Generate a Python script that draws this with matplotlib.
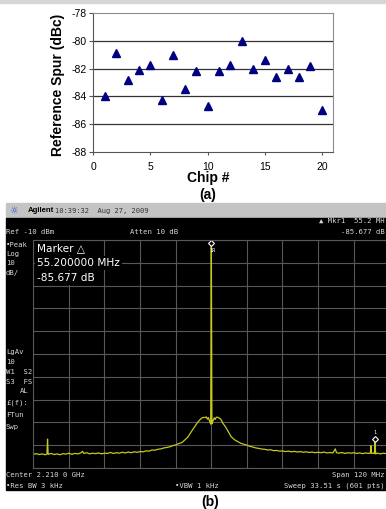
import matplotlib.pyplot as plt
from matplotlib.patches import Rectangle

plt.rcParams['font.family'] = ['Liberation Sans', 'DejaVu Sans']

# (a) reference spur measured on 20 chips
chips = list(range(1, 21))
spur_dbc = [-84.0, -80.9, -82.8, -82.1, -81.7, -84.3, -81.0, -83.5, -82.2, -84.7,
            -82.2, -81.7, -80.0, -82.0, -81.4, -82.6, -82.0, -82.6, -81.8, -85.0]
y_ticks = [-88, -86, -84, -82, -80, -78]
x_ticks = [0, 5, 10, 15, 20]

# (b) analyzer trace, offset from the 2.210 GHz centre (MHz) and level (dBm)
freq_mhz = [-60.0, -59.0, -58.0, -57.0, -56.0, -55.4, -55.2, -55.0, -54.0, -53.0,
            -52.0, -51.0, -50.0, -49.0, -48.0, -47.0, -46.0, -45.0, -44.0, -43.4,
            -43.0, -42.0, -41.0, -40.0, -39.0, -38.0, -37.0, -36.0, -35.0, -34.0,
            -33.0, -32.0, -31.0, -30.0, -29.0, -28.0, -27.0, -26.0, -25.0, -24.0,
            -23.0, -22.0, -21.0, -20.0, -19.0, -18.0, -17.0, -16.0, -15.0, -14.0,
            -13.0, -12.0, -11.0, -10.0, -9.6, -9.0, -8.0, -7.3, -6.5, -5.6,
            -4.8, -3.9, -3.3, -2.8, -2.2, -1.7, -1.3, -1.0, -0.6, -0.2,
            0.0, 0.2, 0.6, 1.0, 1.3, 1.7, 2.2, 2.8, 3.3, 3.9,
            4.5, 5.1, 5.9, 6.7, 7.8, 9.0, 10.0, 11.0, 12.0, 13.0,
            14.0, 15.0, 16.0, 17.0, 18.0, 19.0, 20.0, 21.0, 22.0, 23.0,
            24.0, 25.0, 26.0, 27.0, 28.0, 29.0, 30.0, 31.0, 32.0, 33.0,
            34.0, 35.0, 36.0, 37.0, 38.0, 39.0, 40.0, 41.0, 41.8, 42.2,
            43.0, 44.0, 45.0, 46.0, 47.0, 48.0, 49.0, 50.0, 51.0, 52.0,
            53.0, 53.6, 53.8, 54.0, 54.8, 55.0, 55.2, 55.4, 56.0, 57.0,
            58.0, 59.0, 60.0]
level_dbm = [-104.0, -103.7, -104.1, -103.8, -104.2, -103.9, -97.3, -104.0, -103.6, -104.1,
             -103.8, -104.2, -103.7, -103.9, -103.5, -104.0, -103.6, -103.8, -103.4, -102.7,
             -103.6, -103.3, -103.8, -103.5, -103.7, -103.4, -103.8, -103.5, -103.6, -103.2,
             -103.6, -103.3, -103.5, -103.1, -103.4, -103.0, -103.3, -102.9, -103.1, -102.8,
             -102.9, -102.5, -102.6, -102.1, -102.2, -101.8, -101.6, -101.2, -101.0, -100.7,
             -100.2, -99.9, -99.3, -98.9, -98.5, -97.8, -96.6, -95.2, -93.6, -91.9,
             -90.3, -88.9, -88.2, -87.8, -87.9, -87.6, -88.6, -87.9, -89.4, -90.8,
             -10.0, -90.6, -89.2, -88.0, -88.7, -87.7, -87.8, -88.2, -88.8, -90.4,
             -91.4, -92.6, -94.5, -96.3, -97.6, -98.5, -99.2, -99.6, -100.0, -100.5,
             -100.8, -101.2, -101.4, -101.7, -101.8, -102.1, -102.0, -102.4, -102.3, -102.6,
             -102.5, -102.8, -102.6, -102.9, -102.7, -103.0, -102.8, -103.1, -102.9, -103.2,
             -103.0, -103.3, -103.1, -103.3, -103.0, -103.4, -103.2, -103.4, -101.6, -103.3,
             -103.5, -103.2, -103.6, -103.3, -103.5, -103.3, -103.6, -103.4, -103.7, -103.4,
             -103.6, -103.5, -100.2, -103.6, -103.4, -103.7, -98.5, -103.8, -103.5, -103.8,
             -103.5, -103.7, -103.6]
grid_freq = [-60, -48, -36, -24, -12, 0, 12, 24, 36, 48, 60]
grid_dbm = [-110, -100, -90, -80, -70, -60, -50, -40, -30, -20, -10]
mkr_ref = (0.0, -11.2)
mkr_spur = (55.2, -97.4)

W, H = 386, 509
fig = plt.figure(figsize=(W / 100, H / 100), dpi=100)

# background pieces in pixel coordinates
bg = fig.add_axes([0, 0, 1, 1], zorder=-1)
bg.set_xlim(0, W)
bg.set_ylim(H, 0)
bg.axis('off')
bg.add_patch(Rectangle((0, 0), W, 3, color='#d6d6d6'))
bg.add_patch(Rectangle((6, 203), W - 6, 15, color='#c4c4c4'))
bg.add_patch(Rectangle((6, 218), W - 6, 272, color='black'))

# ---- (a) ----
ax = fig.add_axes([93.3 / W, 1 - 151.7 / H, 240 / W, 138.4 / H])
ax.plot(chips, spur_dbc, linestyle='none', marker='^', ms=6, color='#000080')
ax.set_xlim(0, 21)
ax.set_ylim(-88, -78)
ax.set_xticks(x_ticks)
ax.set_xticklabels([str(v) for v in x_ticks])
ax.set_yticks(y_ticks)
ax.set_yticklabels([str(v) for v in y_ticks])
for v in y_ticks[1:-1]:
    ax.axhline(v, color='#333333', lw=0.9, zorder=0)
for s in ax.spines.values():
    s.set_color('#8c8c8c')
    s.set_linewidth(0.8)
ax.spines['left'].set_color('#555555')
ax.spines['bottom'].set_color('#555555')
ax.tick_params(direction='out', length=3, width=0.8, color='#555555', labelsize=7.5)
ax.tick_params(axis='y', pad=2)
ax.tick_params(axis='x', pad=5, length=2.5)

# ---- (b) ----
spec = fig.add_axes([33.3 / W, 1 - 468 / H, 356 / W, 228 / H])
spec.set_facecolor('black')
spec.plot(freq_mhz, level_dbm, color='#c8c81e', lw=0.9)
spec.plot(*mkr_ref, marker='D', ms=3, mfc='black', mec='white', mew=0.8, clip_on=False)
spec.plot(*mkr_spur, marker='D', ms=3, mfc='black', mec='white', mew=0.8)
spec.set_xlim(-60, 60)
spec.set_ylim(-110, -10)
spec.set_xticks(grid_freq)
spec.set_yticks(grid_dbm)
spec.grid(True, color='#585858', lw=0.8)
spec.tick_params(length=0, labelbottom=False, labelleft=False)
for s in spec.spines.values():
    s.set_color('#585858')
    s.set_linewidth(0.8)

# text layer in pixel coordinates
fg = fig.add_axes([0, 0, 1, 1], zorder=5)
fg.set_xlim(0, W)
fg.set_ylim(H, 0)
fg.axis('off')

fg.text(58, 85, 'Reference Spur (dBc)', rotation=90, fontsize=10, fontweight='bold',
        ha='center', va='center')
fg.text(208, 178, 'Chip #', fontsize=10, fontweight='bold', ha='center', va='center')
fg.text(208, 195, '(a)', fontsize=10, fontweight='bold', ha='center', va='center')
fg.text(210, 502, '(b)', fontsize=10, fontweight='bold', ha='center', va='center')

mono = ['DejaVu Sans Mono', 'DejaVu Sans']
lite = '#d8d8d8'
fg.text(14, 210.5, '☼', fontsize=7, color='#3050e0', ha='center', va='center',
        family=['DejaVu Sans'])
fg.text(28, 210.5, 'Agilent', fontsize=5.6, fontweight='bold', va='center')
fg.text(55, 210.5, '10:39:32  Aug 27, 2009', fontsize=5.1, color='#333333',
        va='center', family=mono)

fg.text(385, 221, '▲ Mkr1  55.2 MH', fontsize=5.2, color=lite, ha='right', va='center',
        family=mono)
fg.text(385, 231.5, '-85.677 dB', fontsize=5.2, color=lite, ha='right', va='center', family=mono)
fg.text(6, 231.5, 'Ref -10 dBm', fontsize=5.2, color=lite, va='center', family=mono)
fg.text(130, 231.5, 'Atten 10 dB', fontsize=5.2, color=lite, va='center', family=mono)

left_col = [('•Peak', 245), ('Log', 254), ('10', 263), ('dB/', 273),
            ('LgAv', 352), ('10', 362), ('W1  S2', 372), ('S3  FS', 382),
            ('£(f):', 403), ('FTun', 415), ('Swp', 427)]
for txt, yy in left_col:
    fg.text(6, yy, txt, fontsize=5.2, color=lite, va='center', family=mono)
fg.text(28.5, 391, 'AL', fontsize=5.2, color=lite, ha='right', va='center', family=mono)

box = dict(facecolor='black', edgecolor='none', pad=1.5)
fg.text(37, 248, 'Marker △', fontsize=7.6, color='white', va='center',
        family=['DejaVu Sans'], bbox=box)
fg.text(37, 263, '55.200000 MHz', fontsize=7.6, color='white', va='center',
        family=['DejaVu Sans'], bbox=box)
fg.text(37, 278, '-85.677 dB', fontsize=7.6, color='white', va='center',
        family=['DejaVu Sans'], bbox=box)

fg.text(212, 250, '1R', fontsize=3.8, color='white', ha='center', va='center', family=mono)
fg.text(375, 432, '1', fontsize=3.8, color='white', ha='center', va='center', family=mono)

fg.text(6, 475, 'Center 2.210 0 GHz', fontsize=5.2, color=lite, va='center', family=mono)
fg.text(385, 475, 'Span 120 MHz', fontsize=5.2, color=lite, ha='right', va='center', family=mono)
fg.text(6, 486, '•Res BW 3 kHz', fontsize=5.2, color=lite, va='center', family=mono)
fg.text(175, 486, '•VBW 1 kHz', fontsize=5.2, color=lite, va='center', family=mono)
fg.text(385, 486, 'Sweep 33.51 s (601 pts)', fontsize=5.2, color=lite, ha='right',
        va='center', family=mono)

fig.savefig('out.png', dpi=100)
